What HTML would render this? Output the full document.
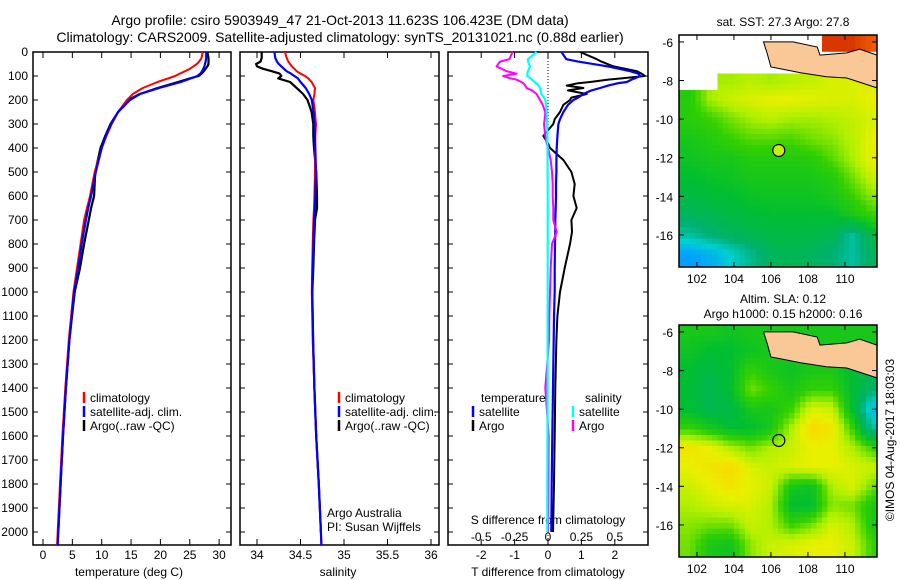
<!DOCTYPE html>
<html><head><meta charset="utf-8"><style>
body{margin:0;background:#fff;}
svg{display:block;font-family:"Liberation Sans",sans-serif;}
</style></head><body>
<svg id="fig" width="900" height="580" viewBox="0 0 900 580">
<rect width="900" height="580" fill="#fff"/>
<text x="340" y="25" font-size="14" text-anchor="middle">Argo profile: csiro 5903949_47 21-Oct-2013 11.623S 106.423E (DM data)</text>
<text x="340" y="42" font-size="14" text-anchor="middle">Climatology: CARS2009. Satellite-adjusted climatology: synTS_20131021.nc (0.88d earlier)</text>
<g id="g1"></g><g id="g2"></g><g id="g3"></g><g id="m1"></g><g id="m2"></g>
<text transform="translate(894,440) rotate(-90)" font-size="12" text-anchor="middle">©IMOS 04-Aug-2017 18:03:03</text>
</svg>
<script>
// ---- data ----
const depths=[0,25,40,50,60,70,80,90,100,110,125,150,175,200,250,300,350,400,500,600,650,700,800,900,1000,1200,1400,1600,1800,2000,2054];
const tempClim=[27.2,27.0,26.6,26.2,25.6,25.0,24.2,23.3,22.5,21.3,19.5,17.0,15.3,14.3,12.8,11.7,10.8,10.0,8.8,8.0,7.5,7.0,6.4,5.8,5.2,4.4,3.8,3.3,2.9,2.5,2.4];
const tempSat=[27.8,27.8,27.7,27.6,27.5,27.3,27.1,26.8,26.3,25.2,23.5,19.8,16.5,14.8,12.8,11.6,10.7,10.0,9.0,8.2,7.7,7.3,6.6,6.0,5.3,4.5,3.9,3.4,3.0,2.6,2.5];
const tempArgo=[28.0,28.2,28.2,28.2,28.0,27.7,27.4,27.0,26.5,25.0,23.0,19.5,16.5,14.5,12.8,11.5,10.6,9.8,8.9,8.7,8.2,7.8,7.0,6.3,5.4,4.5,3.9,3.4,3.0,2.6,null];
const salClim=[34.322,34.341,34.36,34.379,34.4,34.43,34.456,34.5,34.552,34.59,34.628,34.667,34.66,34.648,34.665,34.678,34.67,34.667,34.667,34.66,34.655,34.648,34.64,34.635,34.63,34.64,34.66,34.68,34.71,34.735,34.74];
const salSat=[34.2,34.21,34.23,34.25,34.28,34.31,34.34,34.39,34.43,34.47,34.5,34.56,34.6,34.63,34.65,34.66,34.665,34.67,34.678,34.67,34.665,34.655,34.65,34.64,34.635,34.645,34.66,34.68,34.71,34.735,34.74];
const salArgo=[34.054,34.054,34.04,33.99,34.0,34.07,34.17,34.26,34.28,34.245,34.38,34.456,34.53,34.58,34.628,34.647,34.647,34.655,34.68,34.69,34.69,34.667,34.655,34.647,34.636,34.645,34.66,34.68,34.71,34.735,null];
const dDepths=[0,30,40,60,80,90,100,110,115,125,130,140,150,160,175,190,200,220,250,280,300,350,380,400,450,500,550,600,650,700,750,800,900,1000,1100,1200,1400,1600,1800,2000];
const dTSat=[0.4,0.55,0.9,1.8,2.46,2.7,2.76,2.6,2.5,2.36,2.1,1.8,1.56,1.3,1.06,0.9,0.76,0.6,0.46,0.36,0.31,0.28,0.27,0.26,0.25,0.25,0.24,0.24,0.23,0.22,0.22,0.21,0.2,0.2,0.18,0.17,0.15,0.13,0.11,0.1];
const dTArgo=[0.96,1.46,1.6,1.96,2.66,2.8,2.9,2.2,1.8,1.26,0.9,0.56,1.06,0.6,1.16,0.7,0.66,0.46,0.36,0.2,0.16,-0.14,0.0,0.06,0.46,0.7,0.8,0.76,0.86,0.7,0.72,0.66,0.5,0.36,0.28,0.25,0.22,0.2,0.18,0.15];
const dSSat=[-0.085,-0.15,-0.15,-0.135,-0.15,-0.155,-0.155,-0.13,-0.12,-0.1,-0.085,-0.07,-0.06,-0.055,-0.05,-0.03,-0.02,-0.015,-0.01,-0.008,-0.006,-0.005,-0.004,-0.004,-0.003,-0.003,-0.002,-0.002,-0.002,-0.002,-0.002,-0.002,-0.002,-0.002,-0.003,-0.003,-0.003,-0.004,-0.005,-0.005];
const dSArgo=[-0.265,-0.29,-0.36,-0.385,-0.31,-0.235,-0.335,-0.28,-0.235,-0.2,-0.185,-0.17,-0.16,-0.12,-0.085,-0.07,-0.06,-0.04,-0.02,-0.025,-0.03,-0.02,-0.01,0.0,0.02,0.03,0.035,0.035,0.04,0.04,0.065,0.03,0.02,0.015,0.01,0.008,-0.02,0.005,0.003,0.0];
const tTicks=[0,5,10,15,20,25,30];
const sTicks=[34,34.5,35,35.5,36];
const dtTicks=[-2,-1,0,1,2];
const dsTicks=[-0.5,-0.25,0,0.25,0.5];
const depthTicks=[0,100,200,300,400,500,600,700,800,900,1000,1100,1200,1300,1400,1500,1600,1700,1800,1900,2000];
const latTicks=[-6,-8,-10,-12,-14,-16];
const lonTicks=[102,104,106,108,110];
const gridLon=[101.6,102.7,103.8,104.9,106.0,107.1,108.2,109.3,110.4,111.5];
const gridLat=[-6,-7,-8,-9,-10,-11,-12,-13,-14,-15,-16,-17];
const N=null;
const sstGrid=[
[N,N,N,N,N,N,N,0.95,0.95,0.92],
[N,N,N,N,N,N,N,N,N,N],
[N,N,0.64,0.66,0.64,0.66,0.67,0.7,0.7,0.7],
[0.52,0.64,0.68,0.7,0.72,0.72,0.71,0.7,0.7,0.72],
[0.53,0.55,0.6,0.64,0.66,0.64,0.64,0.65,0.67,0.7],
[0.5,0.52,0.55,0.58,0.58,0.57,0.6,0.62,0.66,0.72],
[0.48,0.5,0.5,0.52,0.52,0.52,0.53,0.58,0.65,0.73],
[0.45,0.47,0.48,0.5,0.5,0.5,0.5,0.52,0.6,0.68],
[0.42,0.44,0.45,0.47,0.48,0.48,0.48,0.5,0.55,0.62],
[0.38,0.4,0.42,0.44,0.45,0.45,0.45,0.45,0.5,0.55],
[0.3,0.35,0.38,0.4,0.42,0.42,0.42,0.4,0.3,0.42],
[0.15,0.18,0.25,0.32,0.38,0.4,0.38,0.35,0.3,0.38]];
const slaGrid=[
[0.5,0.5,0.48,0.5,0.5,0.5,0.5,0.5,0.5,0.5],
[0.48,0.45,0.45,0.48,0.5,0.5,0.5,0.5,0.5,0.48],
[0.45,0.42,0.45,0.55,0.5,0.48,0.5,0.5,0.45,0.42],
[0.45,0.4,0.45,0.6,0.55,0.5,0.55,0.55,0.45,0.35],
[0.45,0.4,0.42,0.5,0.5,0.55,0.7,0.68,0.45,0.2],
[0.55,0.5,0.45,0.45,0.5,0.65,0.78,0.75,0.55,0.3],
[0.75,0.72,0.65,0.6,0.65,0.68,0.72,0.72,0.65,0.55],
[0.72,0.75,0.78,0.7,0.68,0.7,0.72,0.72,0.7,0.68],
[0.68,0.72,0.75,0.72,0.68,0.5,0.48,0.65,0.7,0.6],
[0.65,0.68,0.7,0.7,0.65,0.45,0.45,0.62,0.6,0.5],
[0.62,0.6,0.6,0.68,0.65,0.55,0.6,0.7,0.65,0.5],
[0.6,0.5,0.48,0.62,0.68,0.7,0.72,0.72,0.68,0.55]];
const landLon=[105.6,107.2,108.5,108.65,110.1,110.8,111.8,111.8,110.1,109,107.6,106.3,106.0,105.8];
const landLat=[-6.0,-6.0,-6.26,-6.68,-6.57,-6.37,-6.68,-8.38,-7.87,-7.8,-7.6,-7.35,-7.3,-6.6];
const floatLon=106.423, floatLat=-11.623;

// ---- helpers ----
const NS="http://www.w3.org/2000/svg";
function mk(tag,attrs,parent){const e=document.createElementNS(NS,tag);for(const k in attrs)e.setAttribute(k,attrs[k]);parent.appendChild(e);return e;}
const Y0=52,DK=0.24,YB=545;
const yD=d=>Y0+d*DK;
function txt(p,x,y,s,anchor,size){const t=mk('text',{x:x,y:y,'font-size':size||12,'text-anchor':anchor||'middle'},p);t.textContent=s;return t;}
function line(p,xs,ds,xf,color,w,name){
  let pts=[];for(let i=0;i<ds.length;i++){if(xs[i]==null)continue;pts.push(xf(xs[i]).toFixed(1)+','+yD(ds[i]).toFixed(1));}
  const e=mk('polyline',{points:pts.join(' '),fill:'none',stroke:color,'stroke-width':w,'stroke-linejoin':'round'},p);
  
  
}
function panel(p,x0,x1,name){
  const r=mk('rect',{x:x0,y:Y0,width:x1-x0,height:YB-Y0,fill:'none',stroke:'#000','stroke-width':1.5},p);
  
  
  for(const d of depthTicks){const y=yD(d);mk('line',{x1:x0,x2:x0+5,y1:y,y2:y,stroke:'#000'},p);mk('line',{x1:x1-5,x2:x1,y1:y,y2:y,stroke:'#000'},p);}
}
function xticks(p,vals,xf,labels,ly){for(let i=0;i<vals.length;i++){const x=xf(vals[i]);mk('line',{x1:x,x2:x,y1:YB,y2:YB-6,stroke:'#000'},p);mk('line',{x1:x,x2:x,y1:Y0,y2:Y0+6,stroke:'#000'},p);if(labels)txt(p,x,ly,labels[i]);}}
function legItem(p,x,y,color,label,name){
  const g=mk('g',{},p);
  
  
  mk('line',{x1:x,x2:x,y1:y-10,y2:y+1,stroke:color,'stroke-width':2.5},g);
  txt(g,x+6,y,label,'start');
}

// ---- panel 1 temperature ----
const g1=document.getElementById('g1');
const xT=t=>43+t*5.87;
panel(g1,33,231,'temperature-panel');
depthTicks.forEach(d=>{txt(g1,28,yD(d)+4,String(d),'end');});
xticks(g1,tTicks,xT,tTicks.map(String),559);
txt(g1,129,576,'temperature (deg C)');
line(g1,tempArgo,depths,xT,'#000',2.2,'temp-argo-line');
line(g1,tempClim,depths,xT,'#f00',2,'temp-climatology-line');
line(g1,tempSat,depths,xT,'#00f',2.2,'temp-satellite-line');
legItem(g1,84,402,'#f00','climatology','legend-climatology');
legItem(g1,84,416,'#00f','satellite-adj. clim.','legend-satellite');
legItem(g1,84,430,'#000','Argo(..raw -QC)','legend-argo');

// ---- panel 2 salinity ----
const g2=document.getElementById('g2');
const xS=s=>257+(s-34)*87;
panel(g2,240,439,'salinity-panel');
xticks(g2,sTicks,xS,sTicks.map(String),559);
txt(g2,338,576,'salinity');
line(g2,salArgo,depths,xS,'#000',2.2,'sal-argo-line');
line(g2,salClim,depths,xS,'#f00',2,'sal-climatology-line');
line(g2,salSat,depths,xS,'#00f',2.2,'sal-satellite-line');
legItem(g2,339,402,'#f00','climatology','legend-climatology-2');
legItem(g2,339,416,'#00f','satellite-adj. clim.','legend-satellite-2');
legItem(g2,339,430,'#000','Argo(..raw -QC)','legend-argo-2');
txt(g2,327,517,'Argo Australia','start');
txt(g2,327,531,'PI: Susan Wijffels','start');

// ---- panel 3 differences ----
const g3=document.getElementById('g3');
const xDT=v=>548+v*33.4;
const xDS=v=>548+v*133.6;
panel(g3,448,648,'difference-panel');
mk('line',{x1:548,x2:548,y1:Y0,y2:YB,stroke:'#000','stroke-dasharray':'1,2'},g3);
xticks(g3,dtTicks,xDT,dtTicks.map(String),559);
txt(g3,548,576,'T difference from climatology');
dsTicks.forEach(v=>txt(g3,xDS(v),541,v===0?'0':String(v)));
txt(g3,548,524,'S difference from climatology');
line(g3,dTArgo,dDepths,xDT,'#000',2,'tdiff-argo-line');
line(g3,dTSat,dDepths,xDT,'#00f',2.2,'tdiff-satellite-line');
line(g3,dSArgo,dDepths,xDS,'#f0f',2,'sdiff-argo-line');
line(g3,dSSat,dDepths,xDS,'#0ff',2.2,'sdiff-satellite-line');
txt(g3,481,402,'temperature','start');
legItem(g3,473,416,'#00f','satellite','legend-t-satellite');
legItem(g3,473,430,'#000','Argo','legend-t-argo');
txt(g3,585,402,'salinity','start');
legItem(g3,573,416,'#0ff','satellite','legend-s-satellite');
legItem(g3,573,430,'#f0f','Argo','legend-s-argo');

// ---- maps ----
const stops=[[0,[0,80,255]],[0.15,[0,160,255]],[0.25,[0,208,208]],[0.35,[0,176,112]],[0.45,[0,190,50]],[0.55,[50,208,0]],[0.65,[176,240,0]],[0.72,[232,240,0]],[0.8,[255,208,0]],[0.9,[255,112,0]],[1,[176,0,0]]];
function cmap(v){for(let i=1;i<stops.length;i++){if(v<=stops[i][0]){const a=stops[i-1],b=stops[i],f=(v-a[0])/(b[0]-a[0]);const c=a[1].map((x,k)=>Math.round(x+(b[1][k]-x)*f));return 'rgb('+c.join(',')+')';}}return 'rgb(176,0,0)';}
function sample(grid,lon,lat){
  let fi=(lon-gridLon[0])/1.1, fj=(-6-lat);
  fi=Math.max(0,Math.min(9,fi)); fj=Math.max(0,Math.min(11,fj));
  const ni=Math.round(fi),nj=Math.round(fj);
  if(grid[nj][ni]==null)return null;
  const i0=Math.floor(fi),j0=Math.floor(fj),i1=Math.min(9,i0+1),j1=Math.min(11,j0+1),a=fi-i0,b=fj-j0;
  let s=0,w=0;[[i0,j0,(1-a)*(1-b)],[i1,j0,a*(1-b)],[i0,j1,(1-a)*b],[i1,j1,a*b]].forEach(([i,j,ww])=>{if(grid[j][i]!=null){s+=grid[j][i]*ww;w+=ww;}});
  return s/w;
}
function drawMap(id,top,grid,t1,t2,marker,name){
  const p=document.getElementById(id);
  const L=679,R=877,T=top,B=top+232;
  const lx=lon=>L+(lon-101.03)*18.5, ly=lat=>T+(-5.64-lat)*19.3;
  const cells=mk('g',{},p);
  
  
  const st=5.5;
  for(let y=T;y<B;y+=st){for(let x=L;x<R;x+=st){
    const lon=101.03+(x+st/2-L)/18.5, lat=-5.64-(y+st/2-T)/19.3;
    const v=sample(grid,lon,lat); if(v==null)continue;
    mk('rect',{x:x.toFixed(1),y:y.toFixed(1),width:Math.min(st+0.3,R-x),height:Math.min(st+0.3,B-y),fill:cmap(v)},cells);
  }}
  const pts=landLon.map((lo,i)=>lx(Math.min(lo,111.73)).toFixed(1)+','+ly(landLat[i]).toFixed(1)).join(' ');
  const land=mk('polygon',{points:pts,fill:'#fac896',stroke:'#000','stroke-width':1},p);
  
  
  const fl=mk('circle',{cx:lx(floatLon),cy:ly(floatLat),r:6,fill:marker,stroke:'#000','stroke-width':1.2},p);
  
  
  const box=mk('rect',{x:L,y:T,width:R-L,height:B-T,fill:'none',stroke:'#000','stroke-width':1.5},p);
  
  
  latTicks.forEach(v=>{const y=ly(v);mk('line',{x1:L,x2:L+5,y1:y,y2:y,stroke:'#000'},p);mk('line',{x1:R-5,x2:R,y1:y,y2:y,stroke:'#000'},p);txt(p,673,y+5,String(v),'end');});
  lonTicks.forEach(v=>{const x=lx(v);mk('line',{x1:x,x2:x,y1:B,y2:B-5,stroke:'#000'},p);mk('line',{x1:x,x2:x,y1:T,y2:T+5,stroke:'#000'},p);txt(p,x,B+16,String(v));});
  if(t2){txt(p,783,top-22,t1);txt(p,783,top-7,t2);}
  else txt(p,783,top-9,t1);
}
drawMap('m1',35,sstGrid,'sat. SST: 27.3 Argo: 27.8',null,'#c8f000','sst-map');
drawMap('m2',325,slaGrid,'Altim. SLA: 0.12','Argo h1000: 0.15 h2000: 0.16','none','sla-map');
</script>
</body></html>
